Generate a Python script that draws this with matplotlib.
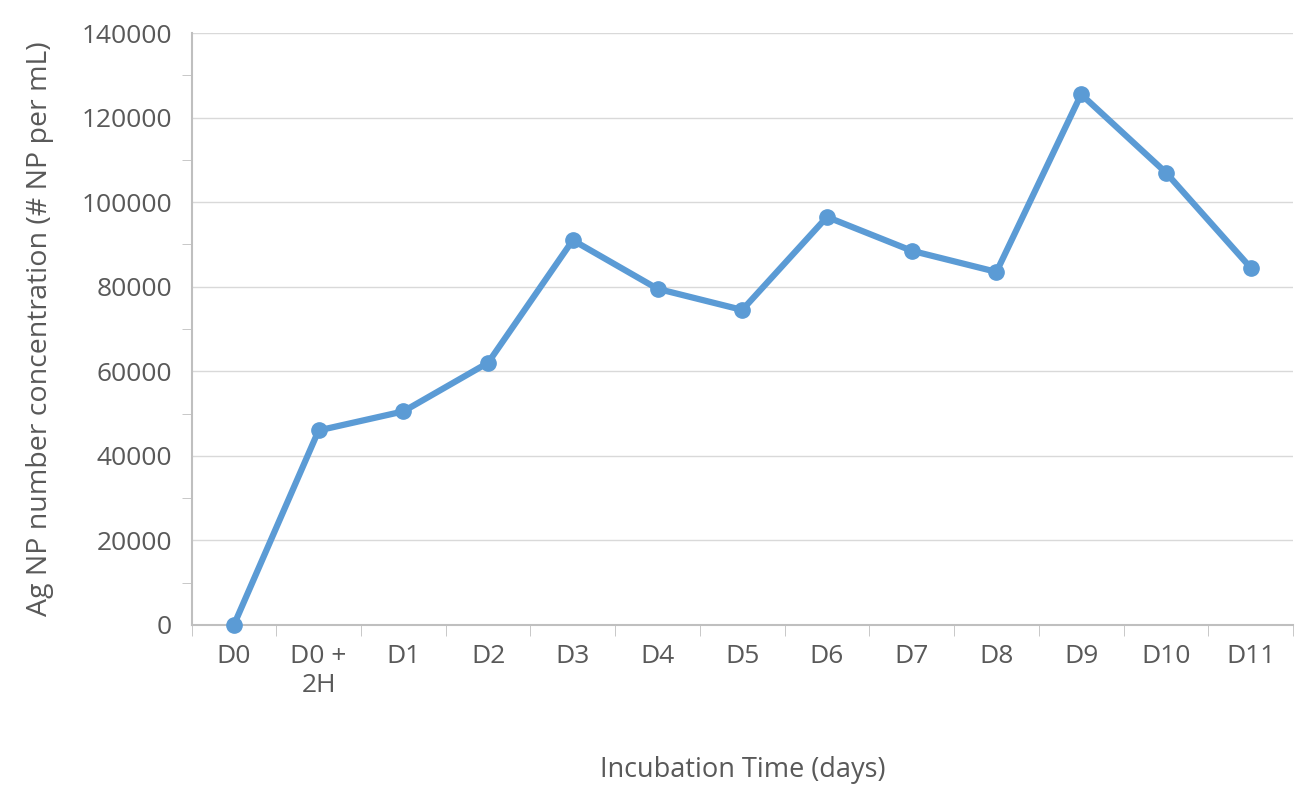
import matplotlib
matplotlib.use("Agg")
import matplotlib.pyplot as plt
from matplotlib.ticker import MultipleLocator

categories = ["D0", "D0 +\n2H", "D1", "D2", "D3", "D4", "D5", "D6", "D7", "D8", "D9", "D10", "D11"]
values = [0, 46000, 50500, 62000, 91000, 79500, 74500, 96500, 88500, 83500, 125500, 107000, 84500]

plt.rcParams["font.family"] = "Open Sans"
fig = plt.figure(figsize=(13.12, 7.87), dpi=100)
ax = fig.add_axes([0.146, 0.206, 0.8395, 0.752])
x = list(range(len(categories)))
ax.plot(x, values, color="#5b9bd5", lw=4.5, marker="o", ms=11, zorder=3, clip_on=False)
ax.set_xlim(-0.5, len(categories) - 0.5)
ax.set_ylim(0, 140000)
ax.yaxis.set_major_locator(MultipleLocator(20000))
ax.yaxis.set_minor_locator(MultipleLocator(10000))
ax.grid(axis="y", which="major", color="#d9d9d9", lw=1)
ax.set_axisbelow(True)
ax.set_xticks(x)
ax.set_xticklabels(categories, fontsize=19, color="#595959", va="top")
ax.set_xticks([i + 0.5 for i in range(-1, len(categories))], minor=True)
ax.tick_params(axis="x", which="major", length=0, pad=14)
ax.tick_params(axis="x", which="minor", length=8, color="#bfbfbf")
ax.tick_params(axis="y", which="both", labelsize=19, labelcolor="#595959", color="#bfbfbf")
ax.tick_params(axis="y", which="major", length=0, pad=14)
ax.tick_params(axis="y", which="minor", length=7)
for s in ["top", "right"]:
    ax.spines[s].set_visible(False)
for s in ["left", "bottom"]:
    ax.spines[s].set_color("#bfbfbf")
    ax.spines[s].set_linewidth(1.5)
ax.set_xlabel("Incubation Time (days)", fontsize=19.5, color="#595959", labelpad=42)
ax.set_ylabel("Ag NP number concentration (# NP per mL)", fontsize=20.5, color="#595959", labelpad=20)
fig.savefig("out.png", dpi=100)
